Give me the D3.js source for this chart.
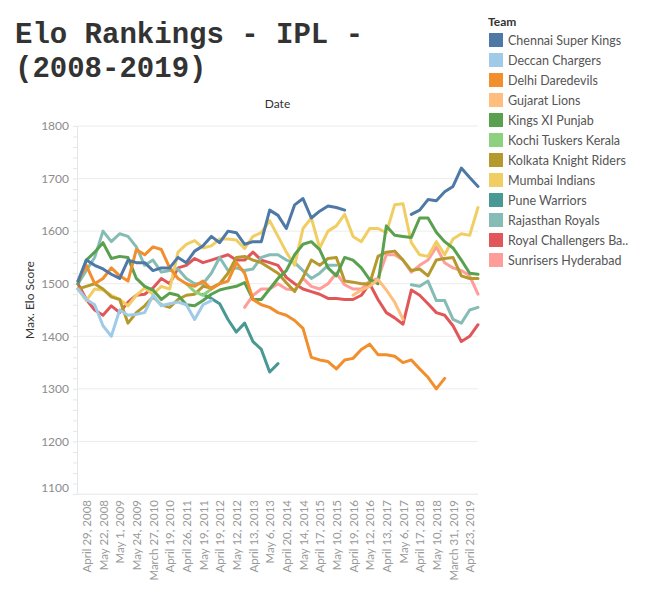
<!DOCTYPE html>
<html>
<head>
<meta charset="utf-8">
<script src="https://cdn.jsdelivr.net/npm/d3@7"></script>
<style>
  body { margin: 0; background: #fff; }
  svg { display: block; }
</style>
</head>
<body>
<div id="chart"></div>
<script>
// team names as shown in the legend
const teams = [
  "Chennai Super Kings", "Deccan Chargers", "Delhi Daredevils", "Gujarat Lions",
  "Kings XI Punjab", "Kochi Tuskers Kerala", "Kolkata Knight Riders", "Mumbai Indians",
  "Pune Warriors", "Rajasthan Royals", "Royal Challengers Ba..", "Sunrisers Hyderabad"
]
const teamColors = [
  "#4e79a7", "#a0cbe8", "#f28e2b", "#ffbe7d", "#59a14f", "#8cd17d",
  "#b6992d", "#f1ce63", "#499894", "#86bcb6", "#e15759", "#ff9d9a"
]

// discrete date axis labels (every second position carries a label)
const dateLabels = [
  "April 29, 2008", "May 22, 2008", "May 1, 2009", "May 24, 2009", "March 27, 2010",
  "April 19, 2010", "April 26, 2011", "May 19, 2011", "April 19, 2012", "May 12, 2012",
  "April 13, 2013", "May 6, 2013", "April 20, 2014", "May 14, 2014", "April 17, 2015",
  "May 10, 2015", "April 19, 2016", "May 12, 2016", "April 13, 2017", "May 6, 2017",
  "April 17, 2018", "May 10, 2018", "March 31, 2019", "April 23, 2019"
]
const eloTicks = [1100, 1200, 1300, 1400, 1500, 1600, 1700, 1800]

const _ = null
// max elo score per date position (49 positions), null = team not playing
const chennai = [1505,1545,1535,1528,1518,1510,1545,1540,1540,1525,1530,1530,1550,1540,1562,1572,1590,1578,1600,1597,1575,1580,1580,1640,1630,1605,1650,1662,1625,1638,1648,1645,1640,_,_,_,_,_,_,_,1632,1640,1660,1658,1675,1685,1720,1702,1685]
const deccan = [1490,1470,1460,1420,1400,1450,1440,1442,1445,1478,1458,1462,1465,1460,1432,1460,1468,_,_,_,_,_,_,_,_,_,_,_,_,_,_,_,_,_,_,_,_,_,_,_,_,_,_,_,_,_,_,_,_]
const delhi = [1505,1535,1500,1510,1530,1515,1505,1565,1555,1570,1565,1530,1510,1500,1495,1505,1490,1500,1505,1540,1520,1470,1460,1455,1445,1440,1430,1415,1360,1355,1352,1338,1355,1358,1375,1385,1365,1365,1362,1350,1355,1338,1322,1300,1320,_,_,_,_]
const gujarat = [_,_,_,_,_,_,_,_,_,_,_,_,_,_,_,_,_,_,_,_,_,_,_,_,_,_,_,_,_,_,_,_,_,1478,1488,1495,1508,1488,1465,1432,_,_,_,_,_,_,_,_,_]
const punjab = [1500,1545,1560,1578,1548,1552,1550,1510,1495,1488,1470,1482,1478,1460,1458,1468,1480,1488,1492,1495,1502,1470,1470,1490,1510,1525,1555,1575,1580,1565,1530,1515,1550,1545,1530,1508,1500,1610,1592,1590,1588,1625,1625,1598,1580,1568,1545,1520,1518]
const kochi = [_,_,_,_,_,_,_,_,_,_,_,_,_,1500,1485,1478,1490,_,_,_,_,_,_,_,_,_,_,_,_,_,_,_,_,_,_,_,_,_,_,_,_,_,_,_,_,_,_,_,_]
const kolkata = [1490,1495,1500,1490,1475,1470,1425,1445,1458,1475,1460,1455,1470,1478,1480,1495,1492,1500,1520,1550,1552,1545,1540,1530,1520,1502,1485,1512,1545,1535,1548,1550,1505,1503,1500,1500,1552,1560,1562,1545,1525,1528,1515,1545,1548,1550,1515,1510,1510]
const mumbai = [1490,1468,1490,1488,1478,1470,1458,1478,1492,1480,1495,1490,1560,1575,1582,1568,1572,1585,1585,1583,1567,1590,1597,1620,1590,1560,1535,1605,1625,1568,1600,1610,1632,1590,1580,1605,1605,1597,1650,1652,1578,1555,1552,1580,1555,1585,1595,1592,1645]
const pune = [_,_,_,_,_,_,_,_,_,_,_,_,_,_,_,1480,1472,1462,1432,1408,1425,1390,1375,1332,1348,_,_,_,_,_,_,_,_,_,_,_,_,_,_,_,_,_,_,_,_,_,_,_,_]
const rajasthan = [1500,1525,1550,1600,1580,1595,1590,1570,1535,1545,1522,1525,1528,1510,1500,1500,1520,1550,1525,1530,1525,1528,1550,1555,1555,1545,1540,1525,1510,1520,1535,1535,_,_,_,_,_,_,_,_,1498,1495,1505,1468,1468,1432,1425,1450,1455]
const rcb = [1500,1470,1450,1440,1458,1445,1465,1478,1480,1492,1510,1500,1530,1535,1548,1540,1545,1550,1555,1545,1545,1560,1545,1540,1535,1512,1500,1490,1485,1480,1472,1472,1470,1470,1478,1500,1470,1445,1435,1423,1488,1478,1462,1445,1440,1420,1390,1400,1422]
const sunrisers = [_,_,_,_,_,_,_,_,_,_,_,_,_,_,_,_,_,_,_,_,1455,1478,1490,1490,1500,1490,1488,1510,1495,1490,1500,1520,1498,1490,1490,1505,1510,1555,1555,1545,1522,1535,1545,1570,1540,1530,1525,1515,1480]

const seriesValues = [chennai, deccan, delhi, gujarat, punjab, kochi, kolkata, mumbai, pune, rajasthan, rcb, sunrisers]

const drawChart = () => {
    const width = 649
    const height = 605
    const plotLeft = 77
    const plotRight = 478
    const plotTop = 126
    const plotBottom = 494
    const nPoints = chennai.length

    const svg = d3.select("#chart")
    .append("svg")
    .attr("width", width)
    .attr("height", height)
    .style("font-family", "Lato, 'Noto Sans', sans-serif")

    // title
    const title = svg.append("text")
    .style("font-family", "'Liberation Mono', 'DejaVu Sans Mono', monospace")
    .style("font-weight", "bold")
    .style("font-size", "29px")
    .attr("fill", "#333")
    title.append("tspan").attr("x", 15).attr("y", 43).text("Elo Rankings - IPL -")
    title.append("tspan").attr("x", 15).attr("y", 77).text("(2008-2019)")

    const x = d3.scaleLinear().domain([0, nPoints - 1]).range([plotLeft + 1, plotRight])
    const y = d3.scaleLinear().domain([1100, 1800]).range([plotBottom, plotTop])

    // grid lines
    svg.append("g")
    .selectAll("line")
    .data(eloTicks)
    .enter()
    .append("line")
    .attr("x1", plotLeft)
    .attr("x2", plotRight)
    .attr("y1", d => y(d))
    .attr("y2", d => y(d))
    .attr("stroke", "#ececec")
    .attr("stroke-width", 1)

    // y axis with minor ticks
    const yAxis = svg.append("g")
    .attr("transform", `translate(${plotLeft},0)`)
    .call(d3.axisLeft(y).tickValues(d3.range(1100, 1801, 20)).tickSize(4).tickFormat(""))
    yAxis.select(".domain").attr("stroke", "#e6e6e6")
    yAxis.selectAll(".tick line").attr("stroke", "#e6e6e6")

    const yLabels = svg.append("g")
    .attr("transform", `translate(${plotLeft},0)`)
    .call(d3.axisLeft(y).tickValues(eloTicks).tickSize(0).tickPadding(8).tickFormat(d3.format("d")))
    yLabels.select(".domain").remove()
    yLabels.selectAll("text")
    .attr("fill", "#8c8c8c")
    .style("font-size", "12px")
    .style("font-family", "Lato, 'Noto Sans', sans-serif")
    .attr("dy", d => d === 1100 ? "-0.25em" : "0.32em")

    // x axis
    const xAxis = svg.append("g")
    .attr("transform", `translate(0,${plotBottom})`)
    .call(d3.axisBottom(x)
        .tickValues(dateLabels.map((d, i) => 1 + 2 * i))
        .tickSize(0)
        .tickFormat((d, i) => dateLabels[i]))
    xAxis.select(".domain").attr("stroke", "#e6e6e6").attr("stroke-dasharray", "1,1")
    xAxis.selectAll("text")
    .attr("transform", "rotate(-90)")
    .attr("x", -6)
    .attr("y", 0)
    .attr("dy", "0.35em")
    .style("text-anchor", "end")
    .attr("fill", "#999")
    .style("font-size", "11.5px")
    .style("font-family", "Lato, 'Noto Sans', sans-serif")

    // axis titles
    svg.append("text")
    .attr("x", (plotLeft + plotRight) / 2)
    .attr("y", 108)
    .attr("text-anchor", "middle")
    .attr("fill", "#333")
    .style("font-size", "12px")
    .text("Date")

    svg.append("text")
    .attr("transform", `translate(34,${(plotTop + plotBottom) / 2 - 10}) rotate(-90)`)
    .attr("text-anchor", "middle")
    .attr("fill", "#333")
    .style("font-size", "12px")
    .text("Max. Elo Score")

    // lines
    const line = d3.line()
    .defined(d => d != null)
    .x((d, i) => x(i))
    .y(d => y(d))

    const order = d3.range(teams.length).reverse()
    svg.append("g")
    .selectAll("path")
    .data(order)
    .enter()
    .append("path")
    .attr("d", t => line(seriesValues[t]))
    .attr("fill", "none")
    .attr("stroke", t => teamColors[t])
    .attr("stroke-width", 3)
    .attr("stroke-linejoin", "round")
    .attr("stroke-linecap", "round")

    // legend
    const legend = svg.append("g").attr("transform", "translate(488,0)")
    legend.append("text")
    .attr("x", 0)
    .attr("y", 26)
    .attr("fill", "#333")
    .style("font-size", "12px")
    .style("font-weight", "bold")
    .text("Team")

    const item = legend.selectAll(".item")
    .data(teams)
    .enter()
    .append("g")
    .attr("class", "item")
    .attr("transform", (d, i) => `translate(0,${33 + i * 20})`)

    item.append("rect")
    .attr("x", 1)
    .attr("y", 0)
    .attr("width", 14)
    .attr("height", 14)
    .attr("fill", (d, i) => teamColors[i])

    item.append("text")
    .attr("x", 20)
    .attr("y", 11.5)
    .attr("fill", "#555")
    .style("font-size", "12.5px")
    .text(d => d)
}

window.addEventListener("DOMContentLoaded", drawChart)
</script>
</body>
</html>
